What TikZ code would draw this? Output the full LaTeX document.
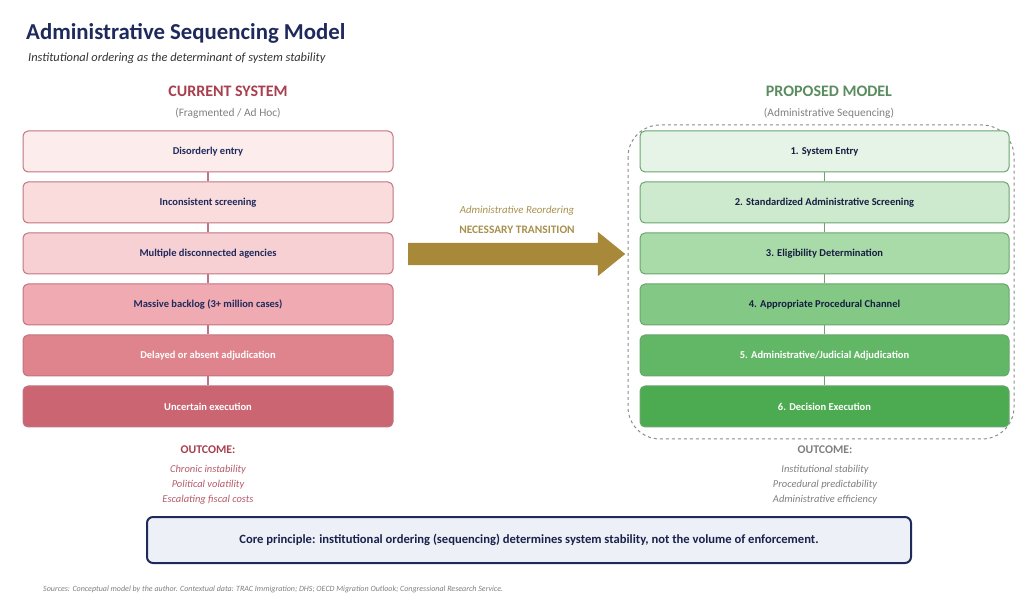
\documentclass[tikz,border=0pt]{standalone}
\usepackage{fontspec}
\setmainfont{Carlito}
\usepackage{tikz}
\usetikzlibrary{shapes.arrows}

\definecolor{navy}{HTML}{1F2A5C}
\definecolor{curred}{HTML}{A83E4E}
\definecolor{propgreen}{HTML}{5B8C5F}
\definecolor{softgray}{HTML}{7F7F7F}
\definecolor{gold}{HTML}{A8893A}
\definecolor{goldtext}{HTML}{A8904E}
\definecolor{lA}{HTML}{FDECEC}
\definecolor{lB}{HTML}{FADCDC}
\definecolor{lC}{HTML}{F7D0D4}
\definecolor{lD}{HTML}{F0AAB2}
\definecolor{lE}{HTML}{DF848D}
\definecolor{lF}{HTML}{CB6572}
\definecolor{lline}{HTML}{C07480}
\definecolor{gA}{HTML}{E6F4E7}
\definecolor{gB}{HTML}{CDEACE}
\definecolor{gC}{HTML}{A9DBA9}
\definecolor{gD}{HTML}{84C886}
\definecolor{gE}{HTML}{62B767}
\definecolor{gF}{HTML}{4CAB50}
\definecolor{gline}{HTML}{6AA56E}
\definecolor{corefill}{HTML}{EEF0F8}

\begin{document}
\begin{tikzpicture}
    [every node/.style={inner sep=0pt},
     redbox/.style={rectangle, rounded corners=5pt, minimum width=370pt, minimum height=41pt, line width=1pt, draw=lline, font=\fontsize{10.5}{12}\selectfont\bfseries, text=navy},
     greenbox/.style={rectangle, rounded corners=5pt, minimum width=369pt, minimum height=41pt, line width=1pt, draw=gline, font=\fontsize{10.5}{12}\selectfont\bfseries, text=navy!70!black},
     redlink/.style={line width=1.5pt, color=lline},
     greenlink/.style={line width=1.5pt, color=gline},
     heading/.style={font=\fontsize{16}{18}\selectfont\bfseries},
     subhead/.style={font=\fontsize{11.4}{13}\selectfont, text=softgray},
     outline/.style={font=\fontsize{10.5}{12}\selectfont\itshape}]
        \useasboundingbox (0pt, 0pt) rectangle (1015pt, -593pt);
        % title
        \node (title) [anchor=west, text=navy, font=\fontsize{22.8}{26}\selectfont\bfseries] at (26pt, -33pt) {Administrative Sequencing Model};
        \node (subtitle) [anchor=west, text=black!80, font=\fontsize{12.4}{14}\selectfont\itshape] at (28pt, -58pt) {Institutional ordering as the determinant of system stability};
        % current system
        \node (curhead) [heading, text=curred] at (228pt, -91pt) {CURRENT SYSTEM};
        \node (cursub) [subhead] at (228pt, -113pt) {(Fragmented / Ad Hoc)};
        \node (l1) [redbox, fill=lA] at (208pt, -151.5pt) {Disorderly entry};
        \node (l2) [redbox, fill=lB] at (208pt, -202.5pt) {Inconsistent screening};
        \node (l3) [redbox, fill=lC] at (208pt, -253.5pt) {Multiple disconnected agencies};
        \node (l4) [redbox, fill=lD] at (208pt, -304.5pt) {Massive backlog (3+ million cases)};
        \node (l5) [redbox, fill=lE, text=white] at (208pt, -355.5pt) {Delayed or absent adjudication};
        \node (l6) [redbox, fill=lF, text=white] at (208pt, -406.5pt) {Uncertain execution};
        \draw [redlink] (l1) to (l2);
        \draw [redlink] (l2) to (l3);
        \draw [redlink] (l3) to (l4);
        \draw [redlink] (l4) to (l5);
        \draw [redlink] (l5) to (l6);
        \node (curout) [text=curred, font=\fontsize{11.8}{13}\selectfont\bfseries] at (208pt, -450pt) {OUTCOME:};
        \node (cur1) [outline, text=curred!85] at (208pt, -470pt) {Chronic instability};
        \node (cur2) [outline, text=curred!85] at (208pt, -485pt) {Political volatility};
        \node (cur3) [outline, text=curred!85] at (208pt, -500pt) {Escalating fiscal costs};
        % transition
        \node (reorder) [text=goldtext, font=\fontsize{10.8}{12}\selectfont\itshape] at (517pt, -211pt) {Administrative Reordering};
        \node (transition) [text=goldtext, font=\fontsize{11.4}{13}\selectfont\bfseries] at (517pt, -230pt) {NECESSARY TRANSITION};
        \node (arrow) [single arrow, fill=gold, inner xsep=0pt, inner ysep=11pt, minimum width=44pt, minimum height=217pt, single arrow head extend=11pt, single arrow tip angle=78, shape border rotate=0, anchor=tail] at (408pt, -254pt) {};
        % proposed model
        \node (prohead) [heading, text=propgreen] at (829pt, -91pt) {PROPOSED MODEL};
        \node (prosub) [subhead] at (829pt, -113pt) {(Administrative Sequencing)};
        \draw [dashed, line width=1pt, color=black!45, rounded corners=32pt] (628pt, -125pt) rectangle (1014pt, -439pt);
        \node (r1) [greenbox, fill=gA] at (824.5pt, -151.5pt) {1. System Entry};
        \node (r2) [greenbox, fill=gB] at (824.5pt, -202.5pt) {2. Standardized Administrative Screening};
        \node (r3) [greenbox, fill=gC] at (824.5pt, -253.5pt) {3. Eligibility Determination};
        \node (r4) [greenbox, fill=gD] at (824.5pt, -304.5pt) {4. Appropriate Procedural Channel};
        \node (r5) [greenbox, fill=gE, text=white] at (824.5pt, -355.5pt) {5. Administrative/Judicial Adjudication};
        \node (r6) [greenbox, fill=gF, text=white] at (824.5pt, -406.5pt) {6. Decision Execution};
        \draw [greenlink] (r1) to (r2);
        \draw [greenlink] (r2) to (r3);
        \draw [greenlink] (r3) to (r4);
        \draw [greenlink] (r4) to (r5);
        \draw [greenlink] (r5) to (r6);
        \node (proout) [text=softgray, font=\fontsize{11.8}{13}\selectfont\bfseries] at (825pt, -450pt) {OUTCOME:};
        \node (pro1) [outline, text=softgray] at (825pt, -470pt) {Institutional stability};
        \node (pro2) [outline, text=softgray] at (825pt, -485pt) {Procedural predictability};
        \node (pro3) [outline, text=softgray] at (825pt, -500pt) {Administrative efficiency};
        % core principle
        \node (core) [rectangle, rounded corners=6pt, minimum width=764pt, minimum height=46pt, fill=corefill, line width=2pt, draw=navy, text=navy!80!black, font=\fontsize{12.6}{14}\selectfont\bfseries] at (529pt, -540pt) {Core principle: institutional ordering (sequencing) determines system stability, not the volume of enforcement.};
        \node (sources) [anchor=west, text=softgray, font=\fontsize{8}{9}\selectfont\itshape] at (43pt, -589pt) {Sources: Conceptual model by the author. Contextual data: TRAC Immigration; DHS; OECD Migration Outlook; Congressional Research Service.};
    \end{tikzpicture}
\end{document}
